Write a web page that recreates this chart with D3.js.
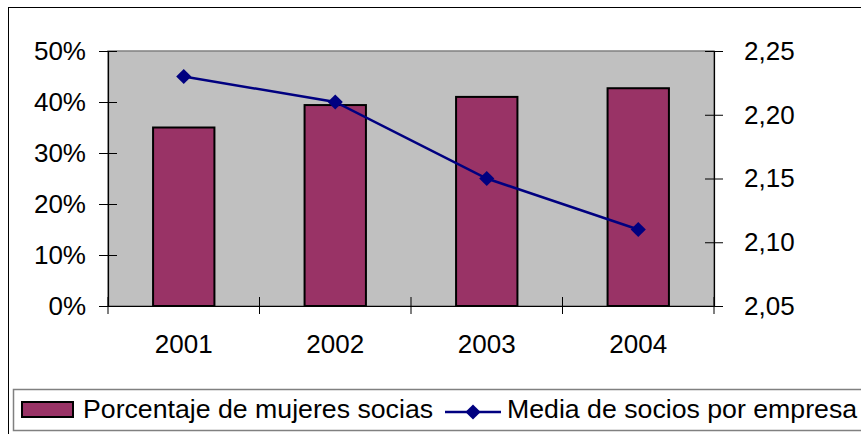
<!DOCTYPE html>
<html>
<head>
<meta charset="utf-8">
<script src="https://cdn.jsdelivr.net/npm/d3@7"></script>
<style>
  html, body { margin: 0; padding: 0; background: #fff; }
  svg { display: block; }
  text { font-family: "Liberation Sans", Arial, sans-serif; fill: #000; }
</style>
</head>
<body>
<svg id="chart" width="861" height="434"></svg>
<script>
const categories = ["2001", "2002", "2003", "2004"];
const barValues = [0.35, 0.394, 0.41, 0.427];
const lineValues = [2.23, 2.21, 2.15, 2.11];
const leftTicks = [0, 0.1, 0.2, 0.3, 0.4, 0.5];
const rightTicks = [2.05, 2.10, 2.15, 2.20, 2.25];
const barLabel = "Porcentaje de mujeres socias";
const lineLabel = "Media de socios por empresa";

const svg = d3.select("#chart");
const fontSize = 26;
const legendFontSize = 26.7;
const plot = { left: 108, right: 714, top: 51, bottom: 306 };

// outer border
svg.append("rect").attr("x", 8.5).attr("y", 7.5).attr("width", 900).attr("height", 500)
  .attr("fill", "#fff").attr("stroke", "#000").attr("stroke-width", 1);

const x = d3.scaleBand().domain(categories).range([plot.left, plot.right]).paddingInner(0).paddingOuter(0);
const yL = d3.scaleLinear().domain([0, 0.5]).range([plot.bottom, plot.top]);
const yR = d3.scaleLinear().domain([2.05, 2.25]).range([plot.bottom, plot.top]);

// plot area
svg.append("rect").attr("x", plot.left).attr("y", plot.top)
  .attr("width", plot.right - plot.left).attr("height", plot.bottom - plot.top)
  .attr("fill", "#C0C0C0").attr("stroke", "#808080").attr("stroke-width", 1.5);

// bars
const bw = x.bandwidth() * 0.405;
svg.append("g").selectAll("rect").data(categories).join("rect")
  .attr("x", (d) => x(d) + (x.bandwidth() - bw) / 2)
  .attr("y", (d, i) => yL(barValues[i]))
  .attr("width", bw)
  .attr("height", (d, i) => yL(0) - yL(barValues[i]))
  .attr("fill", "#993366").attr("stroke", "#000").attr("stroke-width", 2);

// axes
const leftAxis = d3.axisLeft(yL).tickValues(leftTicks).tickSize(9).tickPadding(13)
  .tickFormat(d => Math.round(d * 100) + "%");
const gL = svg.append("g").attr("transform", `translate(${plot.left},0)`).call(leftAxis);
gL.selectAll(".tick line").attr("x2", -9).attr("x1", 9);

const rightAxis = d3.axisRight(yR).tickValues(rightTicks).tickSize(9).tickPadding(21)
  .tickFormat(d => d3.format(".2f")(d).replace(".", ","));
const gR = svg.append("g").attr("transform", `translate(${plot.right},0)`).call(rightAxis);
gR.selectAll(".tick line").attr("x1", -9).attr("x2", 9);

const bottomAxis = d3.axisBottom(x).tickSize(0).tickPadding(29);
const gB = svg.append("g").attr("transform", `translate(0,${plot.bottom})`).call(bottomAxis);
// category boundary ticks
const bounds = categories.map(c => x(c)).concat([plot.right]);
gB.selectAll(".bound").data(bounds).join("line").attr("class", "bound")
  .attr("x1", d => d).attr("x2", d => d).attr("y1", -9).attr("y2", 8)
  .attr("stroke", "#000").attr("stroke-width", 1);

[gL, gR, gB].forEach(g => {
  g.selectAll("text").attr("font-size", fontSize).attr("font-family", "Liberation Sans, Arial, sans-serif").attr("fill", "#000");
  g.selectAll(".tick line").attr("stroke", "#000");
  g.select(".domain").attr("stroke", "#000").attr("stroke-width", 1.2);
});
gB.selectAll(".tick text").attr("dy", "0.71em");

// line
const cx = d => x(d) + x.bandwidth() / 2;
const line = d3.line().x((d, i) => cx(categories[i])).y(d => yR(d));
svg.append("path").datum(lineValues).attr("d", line)
  .attr("fill", "none").attr("stroke", "#000080").attr("stroke-width", 2.5);
const diamond = d3.symbol().type(d3.symbolSquare).size(115);
svg.append("g").selectAll("path").data(lineValues).join("path")
  .attr("d", diamond)
  .attr("transform", (d, i) => `translate(${cx(categories[i])},${yR(d)}) rotate(45)`)
  .attr("fill", "#000080");

// legend
const lg = svg.append("g");
lg.append("rect").attr("x", 13.5).attr("y", 389.5).attr("width", 900).attr("height", 41)
  .attr("fill", "#fff").attr("stroke", "#808080").attr("stroke-width", 1.5);
lg.append("rect").attr("x", 22).attr("y", 402).attr("width", 51).attr("height", 15)
  .attr("fill", "#993366").attr("stroke", "#000").attr("stroke-width", 2);
lg.append("text").attr("x", 83).attr("y", 418).attr("font-size", legendFontSize).text(barLabel);
lg.append("line").attr("x1", 445).attr("x2", 501).attr("y1", 412).attr("y2", 412)
  .attr("stroke", "#000080").attr("stroke-width", 2.5);
lg.append("path").attr("d", diamond).attr("transform", "translate(473,412) rotate(45)").attr("fill", "#000080");
lg.append("text").attr("x", 507).attr("y", 418).attr("font-size", legendFontSize).text(lineLabel);
</script>
</body>
</html>
